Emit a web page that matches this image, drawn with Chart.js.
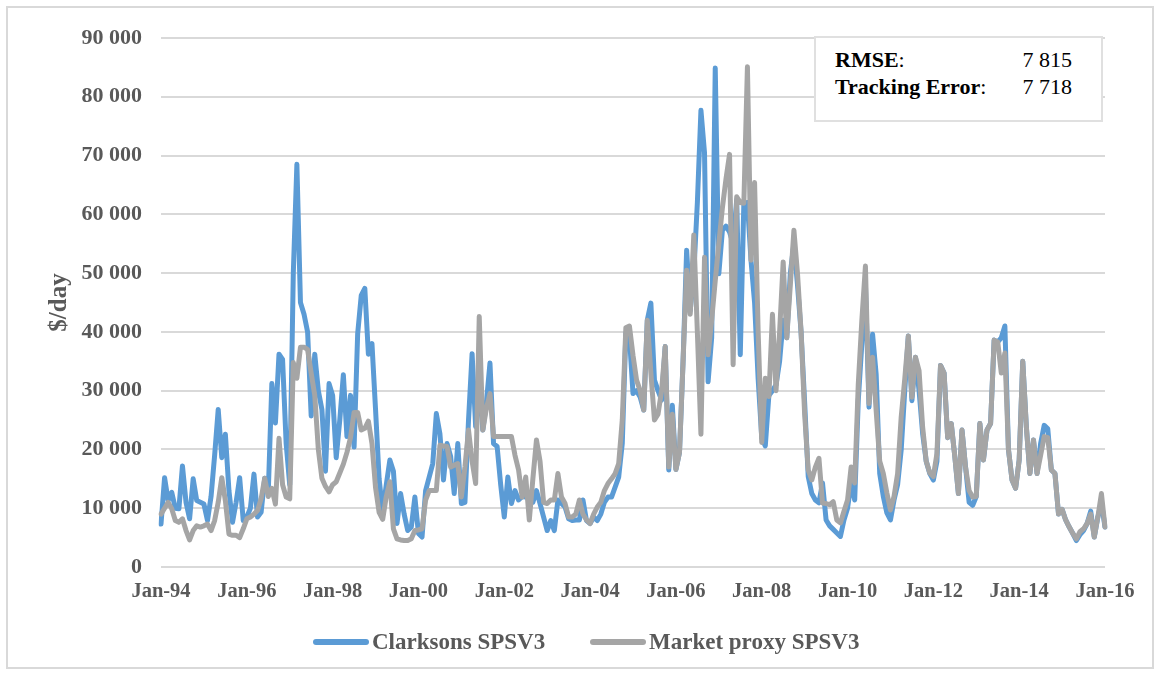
<!DOCTYPE html>
<html>
<head>
<meta charset="utf-8">
<script src="https://cdn.jsdelivr.net/npm/chart.js@4/dist/chart.umd.min.js"></script>
<style>
  body { margin: 0; background: #fff; }
  #wrap { position: relative; width: 1158px; height: 673px; }
  #frame { position: absolute; left: 6px; top: 6px; width: 1144px; height: 659px; border: 2px solid #d9d9d9; pointer-events: none; }
  #stats { position: absolute; left: 814px; top: 36px; width: 285px; height: 82px; border: 2px solid #e0e0e0; background: #fff;
           font-family: 'Liberation Serif', 'Times New Roman', serif; font-size: 22px; color: #000; }
  #stats .row { position: absolute; left: 19px; right: 29px; display: flex; justify-content: space-between; line-height: 26px; }
  .legend-item { position: absolute; top: 627px; height: 30px; display: flex; align-items: center; white-space: nowrap;
                 font: bold 23px 'Liberation Serif', 'Times New Roman', serif; color: #595959; }
  .legend-item .swatch { width: 56px; height: 6px; border-radius: 3px; margin-right: 3px; }
</style>
</head>
<body>
<div id="wrap">
  <canvas id="chart" width="1158" height="673"></canvas>
  <div id="frame"></div>
  <div id="stats">
    <div class="row" style="top: 9px"><span><b>RMSE</b>:</span><span>7 815</span></div>
    <div class="row" style="top: 36px"><span><b>Tracking Error</b>:</span><span>7 718</span></div>
  </div>
  <div id="legend"></div>
</div>
<script>
// monthly rates in $/day, Jan-94 .. Jan-16 (one row per year)
const clarksons = [
  7300, 15200, 11300, 12700, 10000, 9900, 17200, 11000, 8200, 15000, 11300, 11000,
  10700, 7900, 12000, 19000, 26800, 18600, 22600, 13000, 7600, 11000, 15200, 7900,
  8500, 10000, 15800, 8500, 9300, 15100, 12800, 31200, 24500, 36200, 35300, 21000,
  14000, 50000, 68500, 45000, 43000, 40000, 25700, 36200, 30000, 26800, 16300, 31200,
  29200, 18600, 25000, 32700, 22200, 29200, 20400, 39700, 46200, 47400, 36200, 38000,
  26800, 15000, 9300, 14000, 18200, 16300, 7400, 12500, 9000, 6200, 6800, 11900,
  5700, 5100, 13000, 15300, 17600, 26100, 22700, 14800, 21000, 18800, 12500, 21000,
  10800, 11000, 25000, 36300, 23900, 31000, 23300, 28000, 34700, 21000, 20500, 14000,
  8500, 15300, 10800, 13000, 11400, 12000, 11900, 12000, 11000, 13000, 10800, 8500,
  6200, 7900, 6200, 11400, 10800, 10200, 8200, 7900, 8000, 8000, 11400, 7900,
  7400, 8500, 7900, 9000, 11000, 11900, 11900, 13600, 15300, 21000, 39800, 39200,
  29500, 30000, 28900, 26700, 42000, 44900, 31800, 30000, 28400, 37500, 16500, 27500,
  16600, 19500, 35000, 53900, 43600, 50000, 62000, 77700, 70500, 31500, 39000, 84900,
  49900, 57300, 58000, 57000, 55000, 62500, 36100, 61900, 62000, 52200, 45000, 32000,
  22000, 20600, 29200, 30000, 31000, 35000, 42000, 39000, 50000, 55000, 48000, 40000,
  28000, 15400, 12500, 11400, 10900, 14300, 8000, 7000, 6400, 5800, 5200, 8000,
  10000, 14300, 11400, 28300, 38000, 48100, 27200, 39600, 32800, 15900, 12000, 9200,
  8000, 11400, 14000, 19900, 30000, 39300, 28300, 35700, 30000, 22700, 18000, 15900,
  14800, 18000, 34300, 33000, 22000, 24400, 18800, 12500, 23300, 17000, 11000, 10500,
  12000, 24400, 18200, 23300, 24400, 38600, 38300, 39000, 41000, 20000, 14800, 13400,
  18200, 35000, 23900, 15900, 21600, 15900, 21000, 24100, 23500, 16500, 15900, 9000,
  9800, 8000, 6800, 5700, 4500, 5500, 6200, 7400, 9500, 5100, 8500, 11000,
  6800
];

const marketProxy = [
  9000, 10000, 11000, 9900, 7900, 7600, 8200, 6200, 4600, 6200, 7000, 6800,
  7000, 7300, 6200, 7900, 11000, 15200, 11300, 5600, 5400, 5400, 5000, 6500,
  8200, 8500, 9000, 9600, 11600, 15100, 12000, 13400, 10700, 21900, 14000, 11900,
  11600, 34800, 32100, 37400, 37400, 37000, 33000, 29200, 20000, 15100, 13700, 12800,
  14000, 14500, 16000, 17500, 19500, 22000, 26300, 26300, 23300, 23600, 24800, 21000,
  13500, 9300, 8100, 12000, 14500, 6500, 4800, 4600, 4500, 4500, 4800, 6200,
  6300, 6500, 11400, 13000, 13000, 13000, 20700, 20600, 20500, 17000, 17300, 17600,
  11900, 17000, 23300, 18000, 14200, 42600, 23300, 27000, 29500, 22200, 22200, 22200,
  22200, 22200, 22200, 19000, 16500, 11900, 15300, 8000, 15000, 21600, 18000, 11000,
  10800, 11400, 11400, 15900, 11900, 10800, 8500, 8500, 9000, 11400, 9000, 8000,
  7400, 9000, 10200, 11000, 13000, 14200, 15000, 15900, 17600, 25000, 40700, 41000,
  36000, 31800, 30000, 26700, 42000, 33000, 25000, 26000, 30000, 37500, 17000, 26000,
  16600, 19500, 35000, 50500, 43000, 56500, 40000, 22600, 52700, 36100, 42000, 48700,
  55000, 61100, 66000, 70200, 34400, 63000, 62000, 61900, 85100, 52200, 65400, 40000,
  21200, 32100, 29000, 43000, 30000, 40000, 51900, 39000, 48000, 57300, 50000, 40100,
  26000, 16500, 14800, 17000, 18500, 10900, 10800, 10600, 11100, 8000, 7500, 9500,
  11400, 17000, 14300, 31100, 42000, 51200, 27800, 35700, 26600, 18000, 15900, 12600,
  9700, 12000, 15900, 25500, 32000, 39300, 28900, 35700, 33400, 23800, 18000, 16000,
  15400, 19300, 34300, 33000, 22000, 24400, 18800, 12500, 23300, 17000, 13000, 11900,
  12000, 24400, 18200, 23300, 24400, 38600, 38300, 33000, 36400, 20000, 14800, 13400,
  18200, 35000, 23900, 15900, 21600, 15900, 19000, 22200, 22000, 16500, 15900, 9000,
  9800, 8000, 6800, 5700, 4800, 6000, 6500, 7400, 9000, 5100, 8500, 12500,
  6800
];

const tickLabels = ['Jan-94', 'Jan-96', 'Jan-98', 'Jan-00', 'Jan-02', 'Jan-04',
                    'Jan-06', 'Jan-08', 'Jan-10', 'Jan-12', 'Jan-14', 'Jan-16'];
const monthNames = ['Jan', 'Feb', 'Mar', 'Apr', 'May', 'Jun', 'Jul', 'Aug', 'Sep', 'Oct', 'Nov', 'Dec'];
const firstYear = 1994;

// one category per month
const labels = clarksons.map((_, i) =>
  monthNames[i % 12] + '-' + String((firstYear + Math.floor(i / 12)) % 100).padStart(2, '0'));

Chart.defaults.font.family = "'Liberation Serif', 'Times New Roman', serif";

const axisGrey = '#595959';
const series = [
  { label: 'Clarksons SPSV3', data: clarksons, color: '#5b9bd5', legendLeft: 313 },
  { label: 'Market proxy SPSV3', data: marketProxy, color: '#a5a5a5', legendLeft: 590 }
];

const chart = new Chart(document.getElementById('chart').getContext('2d'), {
  type: 'line',
  data: {
    labels: labels,
    datasets: series.map((s, i) => ({
      label: s.label,
      data: s.data,
      yAxisID: 'y',
      borderColor: s.color,
      backgroundColor: s.color,
      borderWidth: 5,
      pointRadius: 0,
      borderJoinStyle: 'round',
      borderCapStyle: 'round',
      order: series.length - i   // grey drawn over the blue line
    }))
  },
  options: {
    responsive: false,
    animation: false,
    layout: { padding: { left: 10, right: 0, top: 38, bottom: 72 } },
    plugins: {
      tooltip: { enabled: false },
      legend: { display: false }
    },
    scales: {
      x: {
        grid: { display: false, drawTicks: false },
        border: { display: false },
        ticks: {
          autoSkip: false,
          maxRotation: 0,
          padding: 12,
          color: axisGrey,
          font: { size: 20.5, weight: 'bold' },
          callback: (v, i) => tickLabels.includes(labels[i]) ? labels[i] : null
        },
        afterFit: s => { s.height = 34; }
      },
      y: {
        position: 'left',
        min: 0,
        max: 90000,
        grid: { color: '#d9d9d9', lineWidth: 2, drawTicks: false },
        border: { display: false },
        ticks: {
          stepSize: 10000,
          padding: 19,
          color: axisGrey,
          font: { size: 22, weight: 'bold' },
          callback: v => v === 0 ? '0' : (v / 1000) + ' 000'
        },
        title: {
          display: true,
          text: '$/day',
          color: axisGrey,
          font: { size: 25, weight: 'bold' },
          padding: { top: 35, bottom: 0 }
        },
        afterFit: s => { s.width = 151; }
      },
      // empty axis that only keeps the right margin
      yRight: {
        position: 'right',
        grid: { display: false, drawTicks: false },
        border: { display: false },
        ticks: { display: false },
        afterFit: s => { s.width = 53; }
      }
    }
  }
});

// legend below the plot, line swatch + label
const legend = document.getElementById('legend');
chart.data.datasets.forEach((ds, i) => {
  const item = document.createElement('div');
  item.className = 'legend-item';
  item.style.left = series[i].legendLeft + 'px';
  item.innerHTML = `<span class="swatch" style="background:${ds.borderColor}"></span>${ds.label}`;
  legend.appendChild(item);
});
</script>
</body>
</html>
